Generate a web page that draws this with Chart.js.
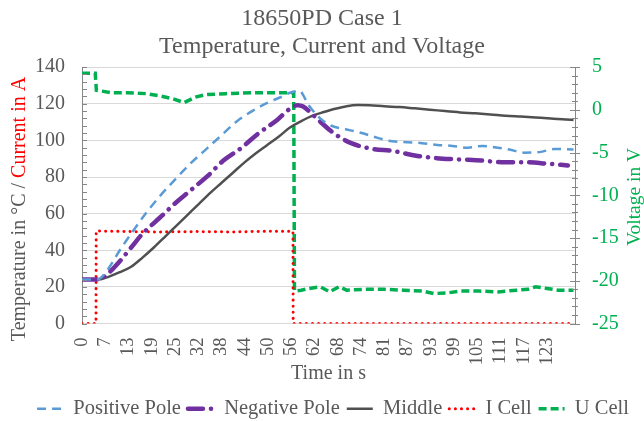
<!DOCTYPE html>
<html>
<head>
<meta charset="utf-8">
<script src="https://cdn.jsdelivr.net/npm/chart.js@4.4.1/dist/chart.umd.min.js"></script>
<style>
  html, body { margin: 0; padding: 0; background: #fff; }
</style>
</head>
<body>
<canvas id="miGrafico" width="644" height="421"></canvas>
<script>
// Datos (tiempo en s)
const tickLabels = ['0','7','13','19','25','32','38','44','50','56','62','68','74','81','87','93','99','105','111','117','123'];

const posTime = [0, 4, 5, 7, 10, 13.6, 17, 21, 25, 29, 33, 37, 41, 45, 49, 53, 55, 57.5, 60, 63, 66, 70, 74, 78, 82, 86, 90, 94, 98, 102, 106, 109, 113, 117, 121, 125, 130];
const posPole = [24, 24, 25, 30, 40, 50.8, 60.5, 70.5, 79.5, 88, 95.5, 103, 110.5, 116, 120.5, 124, 126, 127, 119, 112, 108, 106, 104, 101.5, 99.5, 99, 98.5, 97.5, 97, 96, 97, 96.3, 95, 93.3, 93.6, 95.3, 95];

const negTime = [0, 4, 5, 7, 10, 13, 16, 19.3, 22, 24, 28.6, 33.4, 37.4, 42.2, 46.6, 51.7, 55, 57, 58.5, 61.2, 65.6, 68, 71.2, 76.6, 82.4, 88, 93.8, 100, 105.7, 111, 117, 123, 128.5];
const negPole = [24, 24, 24.5, 27.5, 34, 41.5, 49, 55.4, 60.5, 64.5, 72.5, 80.9, 89, 96, 103.7, 111.3, 117.3, 119.2, 118.5, 113.7, 105.5, 102, 98.5, 95.4, 94.2, 91.8, 90.3, 89.6, 89, 88.1, 88.1, 87.3, 86.3];

const midTime = [0, 3, 5, 7, 10, 13, 16, 19, 22, 25, 28, 31, 34, 37, 40, 43, 46, 49, 52, 55, 58, 61, 64, 67, 70, 73, 76, 80, 84, 88, 92, 96, 100, 104, 108, 112, 116, 120, 124, 128, 130];
const middle  = [24, 24, 24.2, 25.5, 28, 31, 36, 41.5, 47.5, 53.5, 59.5, 65.5, 71.5, 77, 82.5, 88, 93, 97.5, 102, 107, 110.5, 113.5, 115.5, 117.3, 118.7, 119.3, 119.2, 118.6, 118.2, 117.5, 116.8, 116, 115.3, 114.8, 114.2, 113.5, 113, 112.5, 112, 111.4, 111.2];

const iTime = [0, 3.7, 3.75, 10, 20, 30, 40, 50, 55.8, 55.85, 60, 130];
const iCell = [0, 0, 50.5, 50.3, 50, 50.2, 50, 50.4, 50.4, 0, 0, 0];

const uTime = [0, 3.5, 3.8, 8, 12, 17, 21, 24, 27, 30, 33, 38, 45, 50, 55.5, 56, 56.2, 58, 60, 63, 65.5, 68, 70, 75, 80, 85, 90, 93, 97, 100, 105, 110, 115, 118, 120, 123, 126, 130];
const uCell = [4.3, 4.3, 2.3, 2.0, 2.0, 1.9, 1.6, 1.3, 0.85, 1.5, 1.8, 1.9, 2.0, 2.0, 2.0, 2.0, -21.2, -21.1, -20.9, -20.7, -21.3, -20.7, -21.1, -21.0, -21.0, -21.1, -21.2, -21.5, -21.4, -21.2, -21.2, -21.3, -21.1, -21.0, -20.7, -20.9, -21.1, -21.1];

const tickStep = 6.15;
const muestraAncho = 28;
const gris = '#595959';
const verde = '#00B050';
const rojo = '#FF0000';
const fuente = 'Liberation Serif';

function puntos(t, v) {
    return t.map((x, i) => ({ x: x, y: v[i] }));
}

// Titulos de ejes, marcas menores y muestras de la leyenda
const ejesPlugin = {
    id: 'ejes',
    afterLayout(chart) {
        chart.legend.left += 10;
        chart.legend.right += 10;
    },
    afterDraw(chart) {
        const ctx = chart.ctx;
        const a = chart.chartArea;
        const sy = chart.scales.y;
        const sy1 = chart.scales.y1;
        ctx.save();
        ctx.strokeStyle = '#868686';
        ctx.lineWidth = 1;
        for (let v = 0; v <= 140; v += 4) {
            const py = Math.round(sy.getPixelForValue(v)) + 0.5;
            ctx.beginPath();
            ctx.moveTo(a.left, py);
            ctx.lineTo(a.left + 5, py);
            ctx.stroke();
        }
        for (let v = -25; v <= 5; v += 1) {
            const py = Math.round(sy1.getPixelForValue(v)) + 0.5;
            const l = v % 5 === 0 ? 5 : 3;
            ctx.beginPath();
            ctx.moveTo(a.right - l, py);
            ctx.lineTo(a.right + l, py);
            ctx.stroke();
        }

        // muestras de linea en la leyenda
        const cajas = chart.legend.legendHitBoxes || [];
        const fs = chart.options.plugins.legend.labels.font.size;
        cajas.forEach((hb, i) => {
            const ds = chart.data.datasets[i];
            const y = hb.top + fs / 2;
            ctx.save();
            ctx.strokeStyle = ds.borderColor;
            ctx.lineWidth = ds.borderWidth;
            ctx.lineCap = ds.borderCapStyle || 'butt';
            ctx.setLineDash(ds.borderDash || []);
            ctx.beginPath();
            ctx.moveTo(hb.left + 2, y);
            ctx.lineTo(hb.left + muestraAncho, y);
            ctx.stroke();
            ctx.restore();
        });

        // titulo eje izquierdo en dos colores
        ctx.font = '20px "' + fuente + '"';
        ctx.textBaseline = 'middle';
        ctx.textAlign = 'left';
        const t1 = 'Temperature in °C / ';
        const t2 = 'Current in A';
        const w1 = ctx.measureText(t1).width;
        const w = w1 + ctx.measureText(t2).width;
        ctx.save();
        ctx.translate(20, 209);
        ctx.rotate(-Math.PI / 2);
        ctx.fillStyle = gris;
        ctx.fillText(t1, -w / 2, 0);
        ctx.fillStyle = rojo;
        ctx.fillText(t2, -w / 2 + w1, 0);
        ctx.restore();

        // titulo eje derecho
        ctx.save();
        ctx.font = '19.5px "' + fuente + '"';
        ctx.textAlign = 'center';
        ctx.translate(635, 197);
        ctx.rotate(-Math.PI / 2);
        ctx.fillStyle = verde;
        ctx.fillText('Voltage in V', 0, 0);
        ctx.restore();
        ctx.restore();
    }
};

const chartData = {
    datasets: [{
            label: 'Positive Pole',
            data: puntos(posTime, posPole),
            borderColor: '#5B9BD5',
            borderWidth: 2.5,
            borderDash: [9, 6],
            yAxisID: 'y',
            cubicInterpolationMode: 'monotone',
        }, {
            label: 'Negative Pole',
            data: puntos(negTime, negPole),
            borderColor: '#7030A0',
            borderWidth: 4.5,
            borderDash: [15, 8, 0.1, 8],
            borderCapStyle: 'round',
            yAxisID: 'y',
            cubicInterpolationMode: 'monotone',
        }, {
            label: 'Middle',
            data: puntos(midTime, middle),
            borderColor: '#505050',
            borderWidth: 2.5,
            yAxisID: 'y',
            cubicInterpolationMode: 'monotone',
        }, {
            label: 'I Cell',
            data: puntos(iTime, iCell),
            borderColor: rojo,
            borderWidth: 3,
            borderDash: [0.1, 6],
            borderCapStyle: 'round',
            yAxisID: 'y',
        }, {
            label: 'U Cell',
            data: puntos(uTime, uCell),
            borderColor: verde,
            borderWidth: 3.5,
            borderDash: [8, 4],
            yAxisID: 'y1',
        },
    ],
};

Chart.defaults.font.family = fuente;
const mostrar = document.getElementById('miGrafico');
const grafico = new Chart(mostrar, {
    type: 'line',
    data: chartData,
    plugins: [ejesPlugin],
    options: {
        responsive: false,
        animation: false,
        elements: { point: { radius: 0 } },
        layout: { padding: { top: 0, left: 0, right: 0, bottom: -8 } },
        plugins: {
            title: {
                display: true,
                text: ['18650PD Case 1', 'Temperature, Current and Voltage'],
                color: gris,
                font: { size: 24, weight: 'normal', lineHeight: 1.17 },
                padding: { top: 5, bottom: 6 },
            },
            legend: {
                position: 'bottom',
                labels: {
                    usePointStyle: true,
                    pointStyle: 'line',
                    pointStyleWidth: muestraAncho,
                    padding: 5,
                    color: gris,
                    font: { size: 20.5 },
                    generateLabels: (chart) => {
                        const items = Chart.defaults.plugins.legend.labels.generateLabels(chart);
                        items.forEach(it => { it.lineWidth = 0; it.strokeStyle = 'rgba(0,0,0,0)'; });
                        return items;
                    },
                }
            },
            tooltip: { enabled: false },
        },
        scales: {
            x: {
                type: 'linear',
                min: 0,
                max: 130.4,
                afterBuildTicks: (s) => { s.ticks = tickLabels.map((l, i) => ({ value: i * tickStep })); },
                afterFit: (s) => { s.height = 70; },
                ticks: {
                    autoSkip: false,
                    minRotation: 90,
                    maxRotation: 90,
                    padding: 6,
                    color: gris,
                    font: { size: 18.5 },
                    callback: (v, i) => tickLabels[i],
                },
                grid: { display: false },
                border: { display: true, color: '#D9D9D9' },
                title: { display: true, text: 'Time in s', color: gris, font: { size: 20 }, padding: { top: 0, bottom: 8 } },
            },
            y: {
                position: 'left',
                min: 0,
                max: 140,
                afterFit: (s) => { s.width = 82; },
                ticks: { stepSize: 20, padding: 17, color: gris, font: { size: 20 } },
                grid: { color: '#D9D9D9', drawTicks: false },
                border: { display: true, color: '#868686' },
            },
            y1: {
                position: 'right',
                min: -25,
                max: 5,
                afterFit: (s) => { s.width = 69; },
                ticks: { stepSize: 5, padding: 17, color: verde, font: { size: 20 } },
                grid: { display: false, drawTicks: false },
                border: { display: true, color: '#868686' },
            },
        }
    }
});
</script>
</body>
</html>
